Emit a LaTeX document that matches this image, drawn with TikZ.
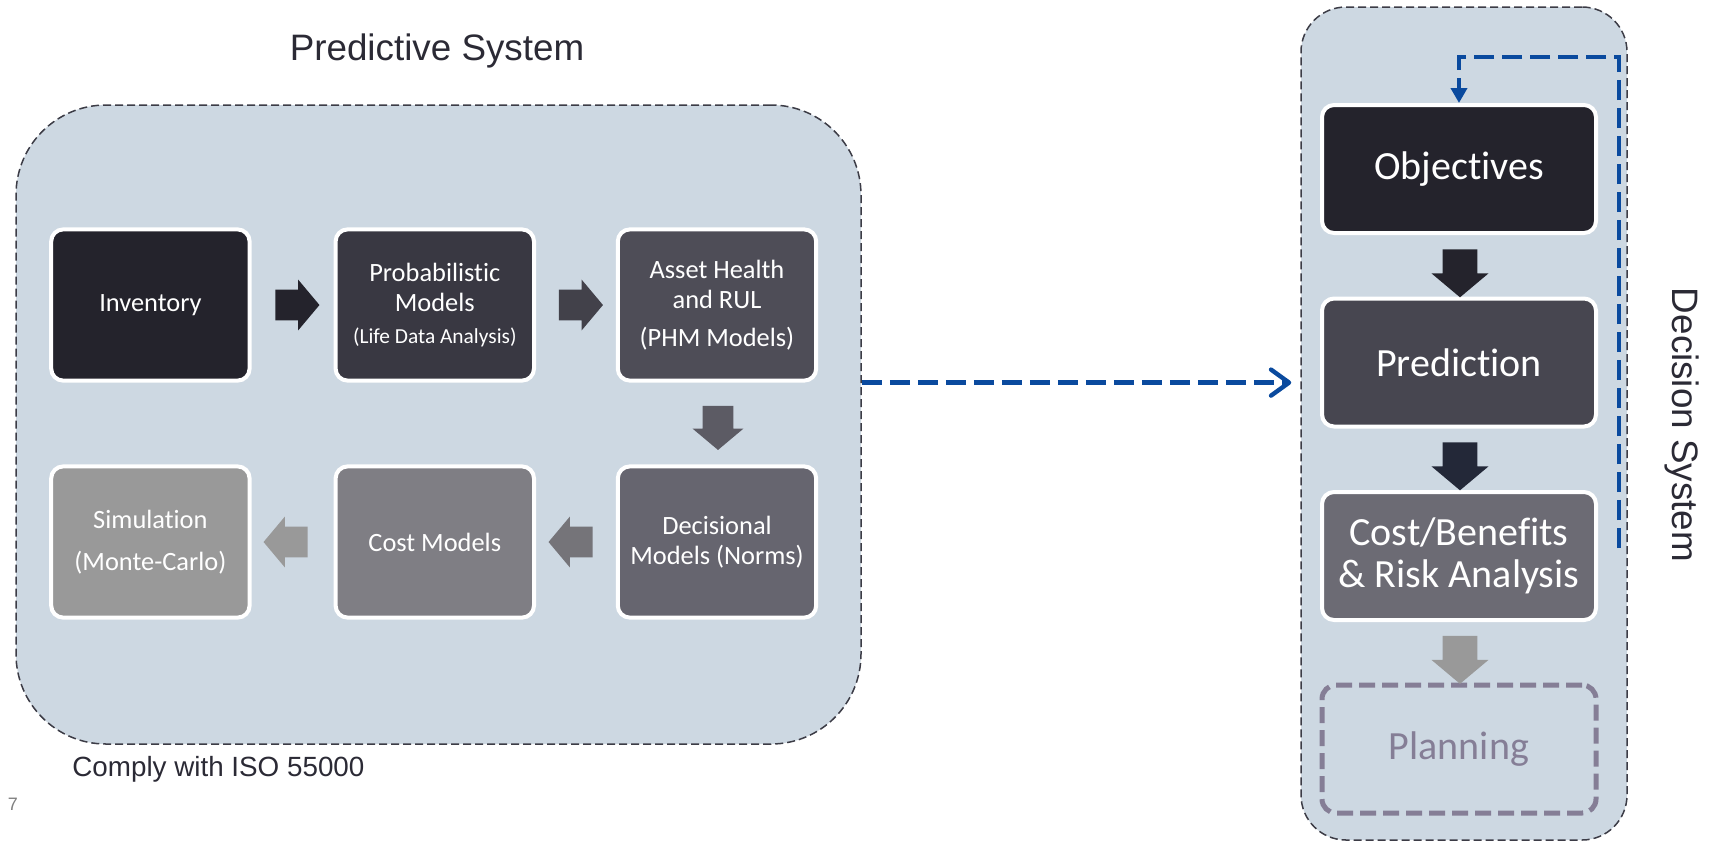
\documentclass[tikz,border=0pt]{standalone}
\usepackage{fontspec}
\setmainfont{Carlito}[Ligatures=NoCommon]
\newfontfamily\arialfont{Liberation Sans}
\usetikzlibrary{shapes.arrows,arrows.meta}

\definecolor{panelbg}{RGB}{205,216,226}
\definecolor{framegray}{RGB}{60,60,70}
\definecolor{linkblue}{RGB}{10,74,158}
\definecolor{inkdark}{RGB}{43,42,53}
\definecolor{invcol}{RGB}{36,35,44}
\definecolor{probcol}{RGB}{57,56,66}
\definecolor{healthcol}{RGB}{78,77,87}
\definecolor{decicol}{RGB}{102,101,111}
\definecolor{costcol}{RGB}{127,126,132}
\definecolor{simcol}{RGB}{153,153,153}
\definecolor{predcol}{RGB}{71,70,80}
\definecolor{cbacol}{RGB}{108,107,116}
\definecolor{navycol}{RGB}{35,40,56}
\definecolor{plancol}{RGB}{133,126,150}

\begin{document}
\begin{tikzpicture}[x=0.5pt,y=-0.5pt,
  panel/.style={draw=framegray,fill=panelbg,line width=0.75pt,dash pattern=on 4pt off 2pt},
  stage/.style={draw=white,line width=2pt,rounded corners=6pt,minimum width=99.2pt,minimum height=75.6pt,
    text=white,align=center,inner sep=2pt,font=\fontsize{13.2}{15}\selectfont},
  bigstage/.style={stage,minimum width=137pt,minimum height=64pt,font=\fontsize{20}{20.8}\selectfont},
  flow/.style={single arrow,draw=none,inner xsep=1pt,inner ysep=7.5pt,single arrow head extend=5pt,
    single arrow tip angle=100,minimum height=22pt},
  downflow/.style={flow,inner xsep=7.5pt,inner ysep=1pt,shape border rotate=270},
  bigflow/.style={downflow,inner xsep=8.5pt,single arrow head extend=5.5pt,minimum height=24pt},
  link/.style={linkblue,line width=2.2pt,dash pattern=on 10pt off 4pt}]
\useasboundingbox (0,0) rectangle (1715,842);

% the two panels
\node[panel,rounded corners=45pt,minimum width=422.5pt,minimum height=319.5pt] (predsys) at (438.5,424.5) {};
\node[panel,rounded corners=22.5pt,minimum width=163pt,minimum height=416.5pt] (decsys) at (1464,423.5) {};

\node[font=\arialfont\fontsize{18.4}{22}\selectfont,text=inkdark] (predtitle) at (437,51) {Predictive System};
\node[font=\arialfont\fontsize{18.4}{22}\selectfont,text=inkdark,rotate=-90] (dectitle) at (1682,425) {Decision System};
\node[font=\arialfont\fontsize{13.9}{16}\selectfont,text=inkdark,anchor=west,inner sep=0pt] (comply) at (72,769) {Comply with ISO 55000};
\node[font=\arialfont\fontsize{9}{11}\selectfont,text=gray,inner sep=0pt] (pagenum) at (13,804) {7};

% predictive chain
\node[stage,fill=invcol]    (inv)    at (150.4,305) {Inventory};
\node[stage,fill=probcol]   (prob)   at (434.8,305) {Probabilistic\\Models\\[1pt]{\fontsize{10.7}{13}\selectfont(Life Data Analysis)}};
\node[stage,fill=healthcol] (health) at (717,305)   {Asset Health\\and RUL\\[4pt](PHM Models)};
\node[stage,fill=decicol]   (decis)  at (717,542)   {Decisional\\Models (Norms)};
\node[stage,fill=costcol]   (cost)   at (434.8,542) {Cost Models};
\node[stage,fill=simcol]    (sim)    at (150.4,542) {Simulation\\[6pt](Monte-Carlo)};

\node[flow,fill=invcol]                              (f1) at (291,305)   {};
\node[flow,fill=healthcol!85!black]                  (f2) at (574.5,305) {};
\node[downflow,fill=decicol!90!black]                (f3) at (718,421.5) {};
\node[flow,fill=costcol!92!black,shape border rotate=180] (f4) at (577,542) {};
\node[flow,fill=simcol,shape border rotate=180]      (f5) at (292,542)   {};

% decision chain
\node[bigstage,fill=invcol]  (obj)  at (1459,169)   {Objectives};
\node[bigstage,fill=predcol] (pred) at (1459,362.5) {Prediction};
\node[bigstage,fill=cbacol]  (cba)  at (1459,556)   {Cost/Benefits\\\& Risk Analysis};
\node[draw=plancol,line width=2.5pt,dash pattern=on 8pt off 3.5pt,rounded corners=7pt,
  minimum width=137pt,minimum height=64pt,text=plancol,font=\fontsize{20}{24}\selectfont] (plan) at (1459,749) {Planning};

\node[bigflow,fill=invcol]   (g1) at (1460,266)   {};
\node[bigflow,fill=navycol]  (g2) at (1460,459)   {};
\node[bigflow,fill=simcol]   (g3) at (1460,652.5) {};

% blue links
\draw[link,-{Straight Barb[length=9pt,width=13pt,round]},shorten >=4.5pt] (predsys.east |- health.south) -- (decsys.west |- health.south);
\coordinate (fbstart) at (1619,548);
\coordinate (fbtop) at (1619,57);
\draw[link,-{Triangle[length=7.5pt,width=8pt]}] (fbstart) -- (fbtop) -| (obj.north);
\end{tikzpicture}
\end{document}
